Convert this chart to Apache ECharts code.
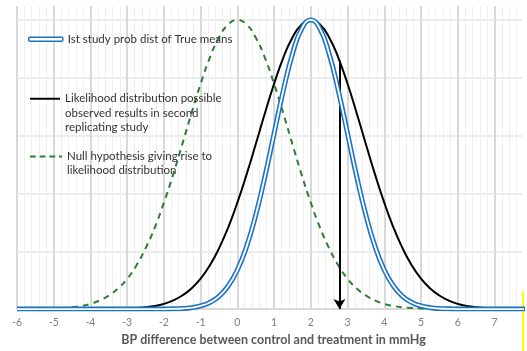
<!DOCTYPE html>
<html>
<head>
<meta charset="utf-8">
<script src="https://cdn.jsdelivr.net/npm/echarts@6/dist/echarts.min.js"></script>
<style>
  html, body { margin: 0; padding: 0; background: #fff; }
  #chart { width: 527px; height: 351px; }
</style>
</head>
<body>
<div id="chart"></div>
<script>
// x positions (mmHg) at 0.25 steps
var xs = [-6,-5.75,-5.5,-5.25,-5,-4.75,-4.5,-4.25,-4,-3.75,-3.5,-3.25,-3,-2.75,-2.5,-2.25,-2,-1.75,-1.5,-1.25,-1,-0.75,-0.5,-0.25,
  0,0.25,0.5,0.75,1,1.25,1.5,1.75,2,2.25,2.5,2.75,3,3.25,3.5,3.75,4,4.25,4.5,4.75,5,5.25,5.5,5.75,6,6.25,6.5,6.75,7,7.25,7.5,7.75,8];

// 1st study - prob dist of true means (relative height)
var firstStudy = [0,0,0,0,0,0,0,0,0,0,0,0,0,0,0,0,0,0.001,0.002,0.005,0.011,0.023,0.044,0.080,
  0.135,0.216,0.325,0.458,0.607,0.755,0.882,0.969,1,0.969,0.882,0.755,0.607,0.458,0.325,0.216,0.135,0.080,0.044,0.023,0.011,0.005,0.002,0.001,0,0,0,0,0,0,0,0,0];

// likelihood of observed results in replicating study
var likelihood = [0,0,0,0,0,0,0,0,0,0,0.001,0.001,0.002,0.004,0.006,0.011,0.018,0.030,0.047,0.071,0.105,0.151,0.210,0.282,
  0.368,0.465,0.570,0.677,0.779,0.869,0.939,0.984,1,0.984,0.939,0.869,0.779,0.677,0.570,0.465,0.368,0.282,0.210,0.151,0.105,0.071,0.047,0.030,0.018,0.011,0.006,0.004,0.002,0.001,0.001,0,0];

// null hypothesis
var nullHyp = [0,0,0.001,0.001,0.002,0.004,0.006,0.011,0.018,0.030,0.047,0.071,0.105,0.151,0.210,0.282,0.368,0.465,0.570,0.677,0.779,0.869,0.939,0.984,
  1,0.984,0.939,0.869,0.779,0.677,0.570,0.465,0.368,0.282,0.210,0.151,0.105,0.071,0.047,0.030,0.018,0.011,0.006,0.004,0.002,0.001,0.001,0,0,0,0,0,0,0,0,0,0];

// observed result arrow
var arrowX = 2.78;
var arrowTop = 0.859;

var nameBlue = 'Ist study prob dist of True means';
var nameBlack = 'Likelihood distribution possible\nobserved results in second\nreplicating study';
var nameGreen = 'Null hypothesis giving rise to\nlikelihood distribution';

var blue = '#1a73c6';
var green = '#2e7d32';

function pairs(ys) {
  return xs.map(function (x, i) { return [x, ys[i]]; });
}

var chart = echarts.init(document.getElementById('chart'));

var legendText = { color: '#333', fontSize: 11.5, fontFamily: 'Lato', lineHeight: 14.3 };

chart.setOption({
  animation: false,
  grid: { left: 17, right: 5, top: 6, bottom: 41 },
  legend: [
    { data: [{ name: nameBlue, icon: 'roundRect', itemStyle: { color: '#fff', borderColor: blue, borderWidth: 1.5 } }],
      left: 28, top: 32, padding: 0, itemWidth: 34, itemHeight: 4, itemGap: 2,
      textStyle: legendText, selectedMode: false },
    { data: [{ name: nameBlack, icon: 'rect', itemStyle: { color: '#000' } }],
      left: 30, top: 63, padding: 0, itemWidth: 30, itemHeight: 2,
      textStyle: legendText, selectedMode: false,
      formatter: function (n) { return '\n\n' + n; } },
    { data: [{ name: nameGreen, icon: 'path://M0,0h6v2h-6z M10,0h6v2h-6z M20,0h6v2h-6z M30,0h3v2h-3z', itemStyle: { color: green } }],
      left: 30, top: 135, padding: 0, itemWidth: 32, itemHeight: 2,
      textStyle: legendText, selectedMode: false,
      formatter: function (n) { return '\n' + n; } }
  ],
  xAxis: {
    type: 'value', min: -6, max: 7.75, interval: 1,
    axisLine: { show: true, onZero: false, lineStyle: { color: '#d9d9d9', width: 2 } },
    axisTick: { show: false },
    axisLabel: { color: '#7f7f7f', fontSize: 10.5, fontFamily: 'Lato', margin: 8, showMaxLabel: false },
    splitLine: { show: true, showMaxLine: false, lineStyle: { color: '#d9d9d9', width: 2 } },
    minorTick: { show: false, splitNumber: 5 },
    minorSplitLine: { show: true, lineStyle: { color: '#efefef', width: 1 } },
    name: 'BP difference between control and treatment in mmHg',
    nameLocation: 'middle', nameGap: 22,
    nameTextStyle: { color: '#595959', fontSize: 12.5, fontWeight: 'bold', fontFamily: 'Lato', padding: [0, 0, 0, 8] }
  },
  yAxis: {
    type: 'value', min: 0, max: 1.048, interval: 0.2,
    axisLine: { show: false }, axisTick: { show: false }, axisLabel: { show: false },
    splitLine: { show: true, showMaxLine: false, showMinLine: false, lineStyle: { color: '#e6e6e6', width: 1.5 } }
  },
  series: [
    {
      name: nameGreen, type: 'line', smooth: true, showSymbol: false, symbol: 'none',
      data: pairs(nullHyp),
      lineStyle: { color: green, width: 2, type: [6, 5] },
      itemStyle: { color: green }, z: 3
    },
    {
      name: nameBlack, type: 'line', smooth: true, showSymbol: false, symbol: 'none',
      data: pairs(likelihood),
      lineStyle: { color: '#000', width: 2 },
      itemStyle: { color: '#000' }, z: 4,
      markLine: {
        silent: true, symbol: ['none', 'arrow'], symbolSize: [9, 10], animation: false,
        label: { show: false },
        lineStyle: { color: '#000', width: 2, type: 'solid' },
        data: [[{ coord: [arrowX, arrowTop] }, { coord: [arrowX, 0] }]]
      }
    },
    {
      name: nameBlue, type: 'line', smooth: true, showSymbol: false, symbol: 'none',
      data: pairs(firstStudy),
      lineStyle: { color: blue, width: 5 },
      itemStyle: { color: blue }, z: 5
    },
    {
      // white core of the double blue line
      name: 'blueCore', type: 'line', smooth: true, showSymbol: false, symbol: 'none',
      data: pairs(firstStudy),
      lineStyle: { color: '#fff', width: 1.8 }, z: 6, silent: true
    }
  ],
  graphic: [
    { type: 'rect', left: 522, top: 291, shape: { width: 2, height: 60 }, style: { fill: '#ffff00' } }
  ]
});
</script>
</body>
</html>
